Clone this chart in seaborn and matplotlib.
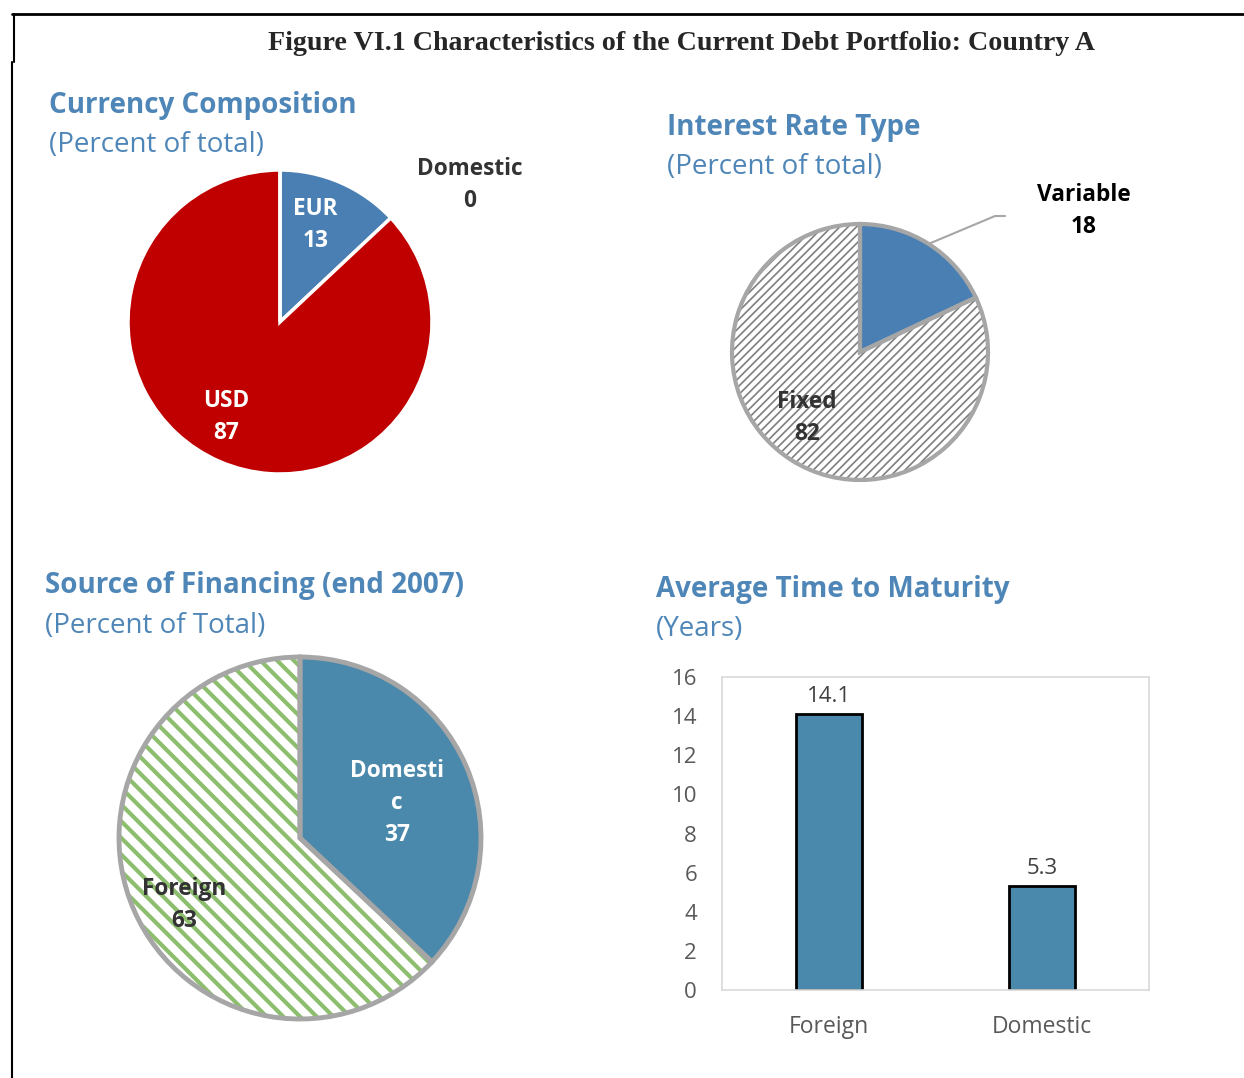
import numpy as np
import pandas as pd
import matplotlib
matplotlib.use("Agg")
import matplotlib.pyplot as plt
import seaborn as sns

# Datos del gráfico
currency_labels = ["EUR", "USD", "Domestic"]
currency_values = [13, 87, 0]
rate_labels = ["Variable", "Fixed"]
rate_values = [18, 82]
source_labels = ["Domestic", "Foreign"]
source_values = [37, 63]
maturity_labels = ["Foreign", "Domestic"]
maturity_values = [14.1, 5.3]

sns.set_style("white")
plt.rcParams["font.family"] = ["Open Sans", "DejaVu Sans"]

W, H = 1244, 1078
fig = plt.figure(figsize=(W / 100, H / 100), dpi=100)

azul_titulo = "#4F86B8"
azul = "#4A7FB3"
azul_verde = "#4A89AB"
rojo = "#C00000"
gris = "#A6A6A6"
texto = "#404040"
interlinea = 1.46


def caja(cx, cy, r):
    # ejes cuadrados centrados en pixel (cx, cy) con radio r
    return [(cx - r) / W, 1 - (cy + r) / H, 2 * r / W, 2 * r / H]


def etiqueta(ax, wedge, txt, frac, dang=0, **kw):
    mid = np.deg2rad((wedge.theta1 + wedge.theta2) / 2 + dang)
    ax.text(frac * np.cos(mid), frac * np.sin(mid), txt, ha="center", va="center",
            fontsize=16.3, fontweight="bold", linespacing=interlinea, **kw)


def subtitulo(x, y, t1, t2):
    fig.text(x / W, 1 - y / H, t1, fontsize=20, fontweight="bold", color=azul_titulo,
             ha="left", va="center")
    fig.text(x / W, 1 - (y + 40) / H, t2, fontsize=20, color=azul_titulo,
             ha="left", va="center")


# marco y titulo
fig.add_artist(plt.Line2D([12 / W, 1], [1 - 14 / H, 1 - 14 / H], color="black", lw=2))
fig.add_artist(plt.Line2D([14 / W, 14 / W], [1 - 14 / H, 1 - 62 / H], color="black", lw=1.5))
fig.add_artist(plt.Line2D([12 / W, 12 / W], [1 - 62 / H, 0], color="black", lw=1.5))
fig.text(681 / W, 1 - 43 / H, "Figure VI.1 Characteristics of the Current Debt Portfolio: Country A",
         family=["Liberation Serif", "DejaVu Serif"], fontweight="bold", fontsize=20.2,
         ha="center", va="center")

subtitulo(49, 105, "Currency Composition", "(Percent of total)")
subtitulo(667, 127, "Interest Rate Type", "(Percent of total)")
subtitulo(45, 586, "Source of Financing (end 2007)", "(Percent of Total)")
subtitulo(656, 589, "Average Time to Maturity", "(Years)")

# 1 - composicion por moneda
ax1 = fig.add_axes(caja(280, 322, 152))
w1, _ = ax1.pie(currency_values, colors=[azul, rojo, azul], startangle=90, counterclock=False,
                wedgeprops=dict(edgecolor="white", linewidth=2.5))
ax1.set_xlim(-1, 1)
ax1.set_ylim(-1, 1)
etiqueta(ax1, w1[0], "EUR\n13", 0.68, 3.4, color="white")
etiqueta(ax1, w1[1], "USD\n87", 0.72, -6, color="white")
ax1.text(1.25, 0.90, "Domestic\n0", ha="center", va="center", fontsize=16.3,
         fontweight="bold", linespacing=interlinea, color="#333333")

# 2 - tipo de tasa
ax2 = fig.add_axes(caja(860, 352, 128))
w2, _ = ax2.pie(rate_values, colors=[azul, "white"], startangle=90, counterclock=False,
                hatch=["", "////"])
w2[0].set_linewidth(0)
w2[1].set_edgecolor("#7F7F7F")
w2[1].set_linewidth(0)
if hasattr(w2[1], "set_hatch_linewidth"):
    w2[1].set_hatch_linewidth(1.2)
ax2.pie(rate_values, startangle=90, counterclock=False,
        wedgeprops=dict(fill=False, edgecolor=gris, linewidth=3))
ax2.set_xlim(-1, 1)
ax2.set_ylim(-1, 1)
etiqueta(ax2, w2[1], "Fixed\n82", 0.66, -6.4, color="#333333")
mid = np.deg2rad((w2[0].theta1 + w2[0].theta2) / 2)
ax2.plot([np.cos(mid), 1.055, 1.133], [np.sin(mid), 1.0625, 1.0625], color=gris,
         lw=1.5, clip_on=False)
ax2.text(1.75, 1.10, "Variable\n18", ha="center", va="center", fontsize=16.3,
         fontweight="bold", linespacing=interlinea, color="black")

# 3 - fuente de financiamiento
ax3 = fig.add_axes(caja(300, 838, 181))
w3, _ = ax3.pie(source_values, colors=[azul_verde, "white"], startangle=90, counterclock=False,
                hatch=["", "\\\\"])
w3[0].set_linewidth(0)
w3[1].set_edgecolor("#8DBE6E")
w3[1].set_linewidth(0)
if hasattr(w3[1], "set_hatch_linewidth"):
    w3[1].set_hatch_linewidth(3)
ax3.pie(source_values, startangle=90, counterclock=False,
        wedgeprops=dict(fill=False, edgecolor=gris, linewidth=3.5))
ax3.set_xlim(-1, 1)
ax3.set_ylim(-1, 1)
etiqueta(ax3, w3[0], "Domesti\nc\n37", 0.57, -3.6, color="white")
etiqueta(ax3, w3[1], "Foreign\n63", 0.74, 6.6, color="#333333")

# 4 - tiempo promedio al vencimiento
df = pd.DataFrame({"fuente": maturity_labels, "anios": maturity_values})
ax4 = fig.add_axes([722 / W, 1 - 990 / H, 427 / W, 313 / H])
sns.barplot(data=df, x="fuente", y="anios", color=azul_verde, saturation=1, width=0.31,
            edgecolor="black", linewidth=2, ax=ax4)
ax4.bar_label(ax4.containers[0], fmt="%.1f", padding=5, fontsize=16, color=texto)
ax4.set_xlim(-0.5, 1.5)
ax4.set_ylim(0, 16)
ax4.set_yticks(np.arange(0, 17, 2))
ax4.set_xlabel("")
ax4.set_ylabel("")
for s in ax4.spines.values():
    s.set_visible(True)
    s.set_color("#D9D9D9")
    s.set_linewidth(1.2)
ax4.tick_params(axis="y", direction="in", length=5, color="#D9D9D9", pad=18,
                labelsize=16, labelcolor="#595959")
ax4.tick_params(axis="x", length=0, pad=18, labelsize=16.5, labelcolor="#595959")
ax4.set_xticks([0.5], minor=True)
ax4.tick_params(axis="x", which="minor", direction="in", length=6, color="#D9D9D9")

fig.savefig("out.png", dpi=100)
